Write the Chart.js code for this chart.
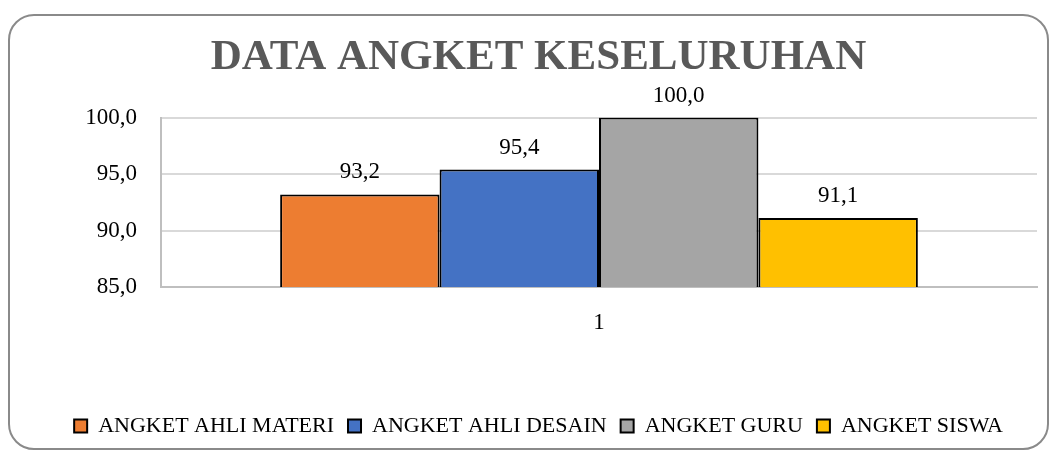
<!DOCTYPE html>
<html>
<head>
<meta charset="utf-8">
<script src="https://cdn.jsdelivr.net/npm/chart.js@4.4.1/dist/chart.umd.min.js"></script>
<style>
	html, body { margin: 0; padding: 0; background: #fff; }
	#wrap { position: relative; width: 1057px; height: 455px; overflow: hidden; }
	#frame {
		position: absolute; left: 8px; top: 14px; width: 1041px; height: 436px;
		border: 2px solid #8a8a8a; border-radius: 26px; box-sizing: border-box;
	}
	#myChart { position: absolute; left: 0; top: 0; }
</style>
</head>
<body>
<div id="wrap">
	<div id="frame"></div>
	<canvas id="myChart" width="1057" height="455"></canvas>
</div>
<script>
// 차트 데이터
var categories = ['1'];
var seriesNames = ['ANGKET AHLI MATERI', 'ANGKET AHLI DESAIN', 'ANGKET GURU', 'ANGKET SISWA'];
var seriesValues = [93.2, 95.4, 100.0, 91.1];
var seriesColors = ['#ED7D31', '#4472C4', '#A5A5A5', '#FFC000'];
var yTicks = [85, 90, 95, 100];

var FONT = "'Liberation Serif', 'DejaVu Serif', serif";

// 소수점 콤마 표시
function fmt(v) {
	return v.toFixed(1).replace('.', ',');
}

// 막대 위 값 표시 플러그인
var valueLabels = {
	id: 'valueLabels',
	afterDatasetsDraw: function(chart) {
		var ctx = chart.ctx;
		ctx.save();
		ctx.font = '23px ' + FONT;
		ctx.fillStyle = '#000';
		ctx.textAlign = 'center';
		ctx.textBaseline = 'middle';
		chart.data.datasets.forEach(function(ds, i) {
			var meta = chart.getDatasetMeta(i);
			meta.data.forEach(function(bar, j) {
				ctx.fillText(fmt(ds.data[j]), bar.x, bar.y - 22);
			});
		});
		ctx.restore();
	}
};

var datasets = seriesNames.map(function(name, i) {
	return {
		label: name,
		data: [seriesValues[i]],
		backgroundColor: seriesColors[i],
		borderColor: '#000',
		borderWidth: 2
	};
});

var ctx = document.getElementById('myChart').getContext('2d');
new Chart(ctx, {
	type: 'bar',
	data: { labels: categories, datasets: datasets },
	options: {
		responsive: false,
		animation: false,
		layout: { padding: { left: 30, right: 10, top: 0, bottom: 8 } },
		datasets: { bar: { categoryPercentage: 0.728, barPercentage: 1.0 } },
		plugins: {
			title: {
				display: true,
				text: 'DATA ANGKET KESELURUHAN',
				color: '#595959',
				font: { family: FONT, size: 43, weight: 'bold' },
				padding: { top: 32, bottom: 34 }
			},
			legend: {
				position: 'bottom',
				labels: {
					color: '#000',
					font: { family: FONT, size: 22 },
					boxWidth: 13,
					boxHeight: 13,
					padding: 14,
					useBorderRadius: false
				}
			},
			tooltip: { enabled: false }
		},
		scales: {
			x: {
				grid: { display: false },
				border: { color: '#bfbfbf', width: 2 },
				ticks: { color: '#000', font: { family: FONT, size: 23 }, padding: 14 },
				afterFit: function(scale) { scale.height = 114; }
			},
			y: {
				min: yTicks[0],
				max: yTicks[yTicks.length - 1],
				afterBuildTicks: function(scale) {
					scale.ticks = yTicks.map(function(v) { return { value: v }; });
				},
				grid: { color: '#d9d9d9', lineWidth: 2, drawTicks: false },
				border: { color: '#bfbfbf', width: 2 },
				ticks: {
					color: '#000',
					font: { family: FONT, size: 23 },
					padding: 24,
					callback: function(v) { return fmt(v); }
				},
				afterFit: function(scale) { scale.width = 131; }
			},
			// 오른쪽 여백용 빈 축
			yR: {
				position: 'right',
				display: true,
				grid: { display: false },
				border: { display: false },
				ticks: { display: false },
				afterFit: function(scale) { scale.width = 10; }
			}
		}
	},
	plugins: [valueLabels]
});
</script>
</body>
</html>
